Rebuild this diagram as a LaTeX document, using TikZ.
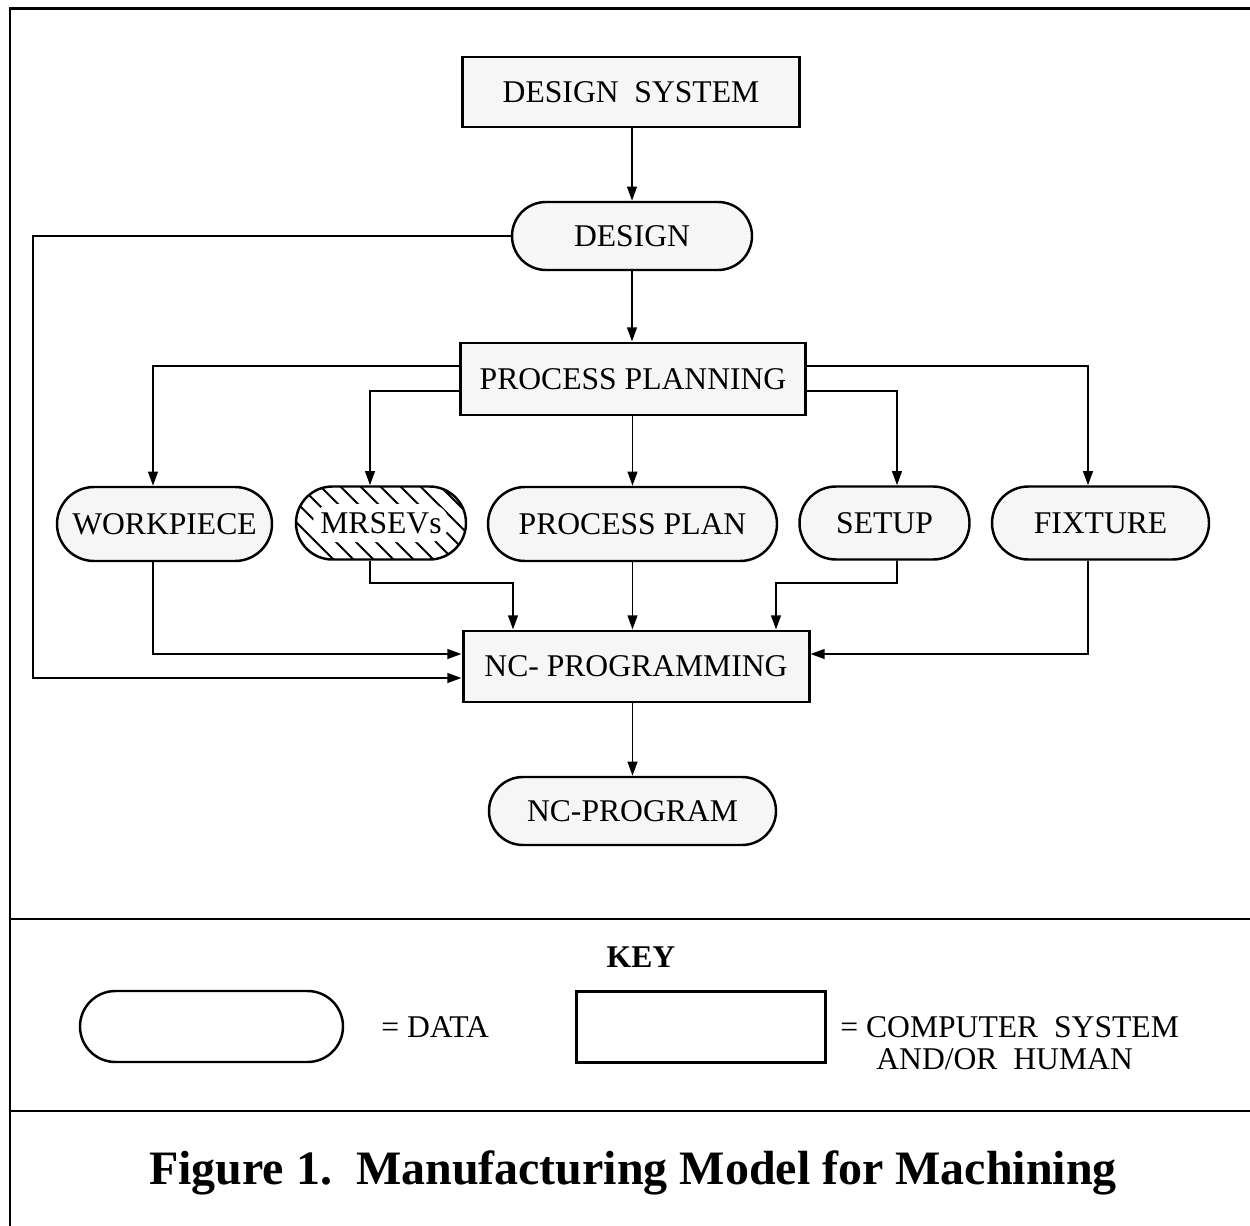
\documentclass[tikz,border=0pt]{standalone}
\usepackage{fontspec}
\setmainfont{Liberation Serif}
\usetikzlibrary{arrows.meta,calc}
\newlength{\px}\setlength{\px}{0.02cm}
\definecolor{boxfill}{RGB}{246,246,246}
\begin{document}
\begin{tikzpicture}[x=0.02cm,y=-0.02cm,
  font=\fontsize{18}{21}\selectfont,
  procbox/.style 2 args={draw, rectangle, line width=1.7pt, fill=boxfill,
    minimum width=#1\px, minimum height=#2\px, inner sep=0pt},
  databox/.style 2 args={draw, rectangle, line width=1.4pt, fill=boxfill,
    minimum width=#1\px, minimum height=#2\px, inner sep=0pt,
    rounded corners=#2*0.01cm},
  txt/.style={inner sep=0pt},
  conn/.style={line width=1.1pt, -{Triangle[length=8pt,width=5.5pt]}},
  frameline/.style={line width=1.6pt},
  hatchline/.style={line width=1.2pt}
]
\useasboundingbox (0,0) rectangle (1250,1226);

% frame
\draw[frameline] (10,1226) -- (10,8.5) -- (1250,8.5);
\draw[frameline] (10,919) -- (1250,919);
\draw[frameline] (10,1111) -- (1250,1111);

% hatching of the MRSEVs data shape (band along its outline)
\begin{scope}
  \clip[rounded corners=36.5\px] (296,486.5) rectangle (466,559.5);
  \fill[white] (296,486.5) rectangle (466,559.5);
  \foreach \i in {-5,...,9}
    \draw[hatchline] (296+\i*20+4,486) -- ++(90,90);
  \fill[white, rounded corners=19\px] (313,504) rectangle (449,542);
\end{scope}

% nodes
\node[procbox={337}{70}] (ds) at (631,92) {DESIGN\ \ SYSTEM};
\node[databox={240}{68}] (design) at (632,236) {DESIGN};
\node[procbox={345}{72}] (pp) at (633,379) {PROCESS PLANNING};
\node[databox={215}{74}] (wp) at (164.5,524) {WORKPIECE};
\node[databox={170}{73}, fill=none] (mr) at (381,523) {MRSEVs};
\node[databox={289}{74}] (plan) at (632.5,524) {PROCESS PLAN};
\node[databox={170}{73}] (setup) at (884.5,523) {SETUP};
\node[databox={217}{73}] (fix) at (1100.5,523) {FIXTURE};
\node[procbox={346}{71}] (nc) at (636,666.5) {NC- PROGRAMMING};
\node[databox={287}{68}] (ncp) at (632.5,811) {NC-PROGRAM};

% connectors
\draw[conn] (design.north |- ds.south) -- (design.north);
\draw[conn] (design.west) -| (33,678) -- ($(nc.west)+(0,11.5)$);
\draw[conn] (design.south) -- (design.south |- pp.north);
\draw[conn] ($(pp.west)+(0,-13)$) -| ($(wp.north)+(-11.5,0)$);
\draw[conn] ($(pp.west)+(0,12)$) -| ($(mr.north)+(-11,0)$);
\draw[conn] (plan.north |- pp.south) -- (plan.north);
\draw[conn] ($(pp.east)+(0,12)$) -| ($(setup.north)+(12.5,0)$);
\draw[conn] ($(pp.east)+(0,-13)$) -| ($(fix.north)+(-12.5,0)$);
\draw[conn] ($(wp.south)+(-11.5,0)$) |- ($(nc.west)+(0,-12.5)$);
\draw[conn] ($(mr.south)+(-11,0)$) -- (370,583) -| ($(nc.north)+(-123,0)$);
\draw[conn] (plan.south) -- (plan.south |- nc.north);
\draw[conn] ($(setup.south)+(12.5,0)$) -- (897,583) -| ($(nc.north)+(140,0)$);
\draw[conn] ($(fix.south)+(-12.5,0)$) |- ($(nc.east)+(0,-12.5)$);
\draw[conn] (ncp.north |- nc.south) -- (ncp.north);

% key
\node[txt, font=\fontsize{18}{21}\selectfont\bfseries, anchor=base] (key) at (641,967) {KEY};
\node[databox={263}{71}, fill=white] (kd) at (211.5,1026.5) {};
\node[txt, anchor=base west] (kdt) at (381,1037) {= DATA};
\node[procbox={249}{71}, fill=white] (kr) at (700.5,1026.5) {};
\node[txt, anchor=base west] (krt1) at (840,1037) {= COMPUTER\ \ SYSTEM};
\node[txt, anchor=base west] (krt2) at (876,1069) {AND/OR\ \ HUMAN};

% caption
\node[txt, font=\fontsize{27.3}{32}\selectfont\bfseries, anchor=base] (cap) at (633,1184)
  {Figure 1.\ \ Manufacturing Model for Machining};
\end{tikzpicture}
\end{document}
